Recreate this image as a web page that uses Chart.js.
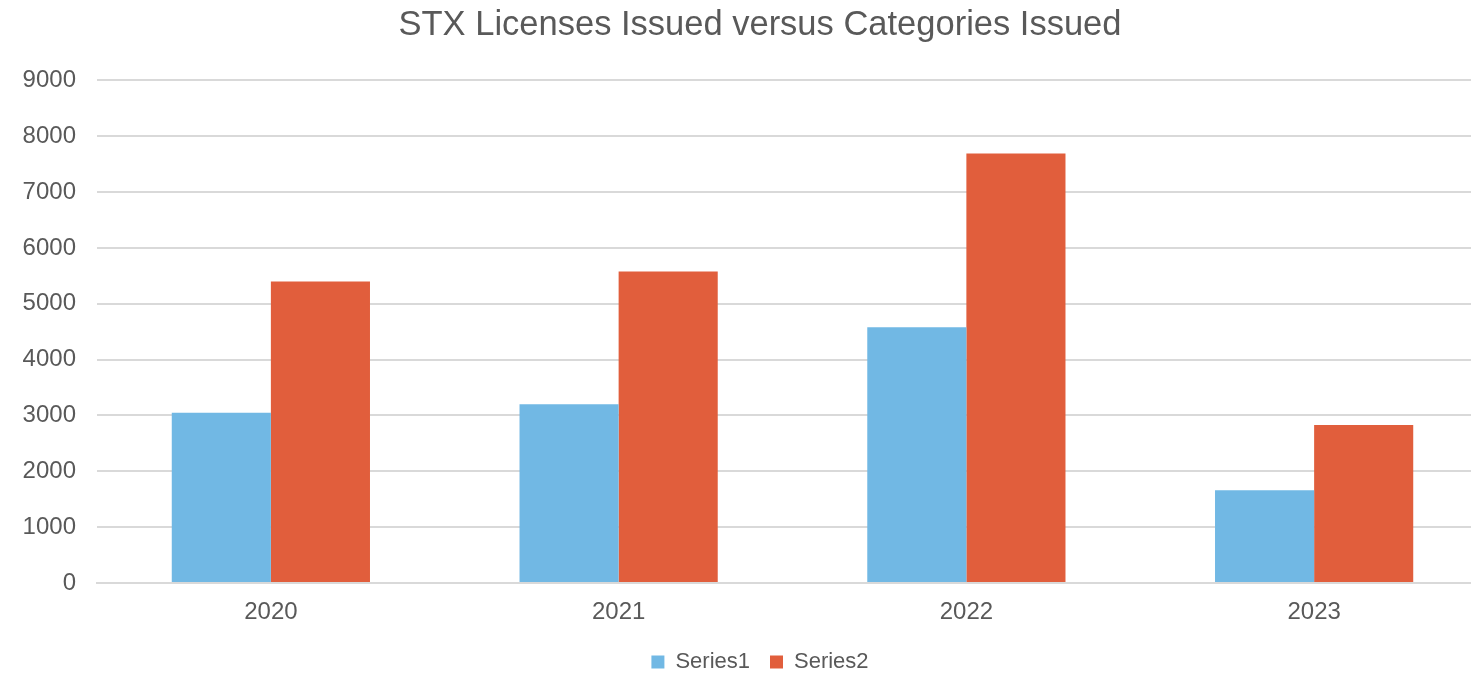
<!DOCTYPE html>
<html>
<head>
<meta charset="utf-8">
<script src="https://cdn.jsdelivr.net/npm/chart.js@4"></script>
<style>
  html, body { margin: 0; padding: 0; overflow: hidden; background: #fff; }
  #wrap { width: 1520px; height: 676px; }
</style>
</head>
<body>
<div id="wrap"><canvas id="chart"></canvas></div>
<script>
// chart data
const years = ['2020', '2021', '2022', '2023'];
const series1 = [3050, 3200, 4580, 1660];
const series2 = [5400, 5580, 7690, 2830];
const yTicksMax = 9000;

const textColor = '#595959';
const gridColor = '#D9D9D9';
const fontFam = '"Liberation Sans", sans-serif';

new Chart(document.getElementById('chart'), {
    type: 'bar',
    data: {
        labels: years,
        datasets: [
            { label: 'Series1', data: series1, backgroundColor: '#71B8E4' },
            { label: 'Series2', data: series2, backgroundColor: '#E15E3C' }
        ]
    },
    options: {
        responsive: true,
        maintainAspectRatio: false,
        animation: false,
        categoryPercentage: 0.57,
        barPercentage: 1.0,
        layout: { padding: { bottom: -7 } },
        plugins: {
            title: {
                display: true,
                text: 'STX Licenses Issued versus Categories Issued',
                color: textColor,
                font: { family: fontFam, size: 34.5, weight: 'normal' },
                padding: { top: 5, bottom: 34 }
            },
            legend: {
                position: 'bottom',
                labels: {
                    color: textColor,
                    font: { family: fontFam, size: 22 },
                    boxWidth: 13,
                    boxHeight: 13,
                    padding: 20
                }
            },
            tooltip: { enabled: false }
        },
        scales: {
            x: {
                grid: { display: false },
                border: { color: gridColor, width: 2 },
                ticks: { color: textColor, font: { family: fontFam, size: 24 }, padding: 7 },
                afterFit: s => { s.height = 48; }
            },
            y: {
                min: 0,
                max: yTicksMax,
                ticks: {
                    stepSize: 1000,
                    color: textColor,
                    font: { family: fontFam, size: 24 },
                    padding: 21,
                    callback: v => String(v)
                },
                grid: { color: gridColor, lineWidth: 2, drawTicks: false },
                border: { display: false },
                afterFit: s => { s.width = 97; }
            },
            pad: {
                position: 'right',
                display: true,
                grid: { display: false },
                ticks: { display: false },
                border: { display: false },
                afterFit: s => { s.width = 32; }
            }
        }
    }
});
</script>
</body>
</html>
